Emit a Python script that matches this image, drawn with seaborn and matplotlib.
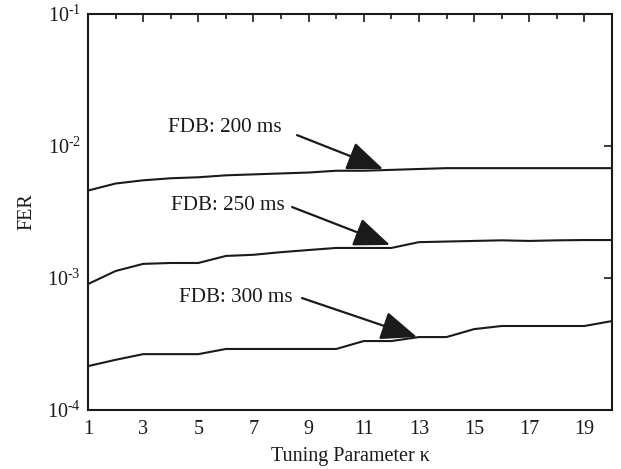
import matplotlib
matplotlib.use("Agg")
import matplotlib.pyplot as plt
import seaborn as sns
import pandas as pd
import numpy as np
from matplotlib.ticker import FixedLocator, NullLocator, FixedFormatter

kappa = list(range(1, 21))
fer_200 = [4.6e-3, 5.2e-3, 5.5e-3, 5.7e-3, 5.8e-3, 6.0e-3, 6.1e-3, 6.2e-3, 6.3e-3, 6.5e-3,
           6.5e-3, 6.6e-3, 6.7e-3, 6.8e-3, 6.8e-3, 6.8e-3, 6.8e-3, 6.8e-3, 6.8e-3, 6.8e-3]
fer_250 = [9.0e-4, 1.13e-3, 1.28e-3, 1.3e-3, 1.3e-3, 1.47e-3, 1.5e-3, 1.57e-3, 1.63e-3, 1.69e-3,
           1.69e-3, 1.69e-3, 1.87e-3, 1.89e-3, 1.91e-3, 1.93e-3, 1.91e-3, 1.93e-3, 1.94e-3, 1.94e-3]
fer_300 = [2.15e-4, 2.4e-4, 2.65e-4, 2.65e-4, 2.65e-4, 2.9e-4, 2.9e-4, 2.9e-4, 2.9e-4, 2.9e-4,
           3.33e-4, 3.33e-4, 3.57e-4, 3.57e-4, 4.1e-4, 4.33e-4, 4.33e-4, 4.33e-4, 4.33e-4, 4.72e-4]
series_labels = ["FDB: 200 ms", "FDB: 250 ms", "FDB: 300 ms"]
x_ticklabels = [str(k) for k in range(1, 21, 2)]
y_ticks = [1e-4, 1e-3, 1e-2, 1e-1]
y_ticklabels = [r"10$^{\text{-}4}$", r"10$^{\text{-}3}$", r"10$^{\text{-}2}$", r"10$^{\text{-}1}$"]

df = pd.DataFrame({
    "kappa": kappa * 3,
    "FER": fer_200 + fer_250 + fer_300,
    "series": sum([[s] * len(kappa) for s in series_labels], []),
})

sns.set_style("white")
plt.rcParams["font.family"] = ["Liberation Serif", "DejaVu Serif"]
plt.rcParams["mathtext.fontset"] = "custom"
plt.rcParams["mathtext.rm"] = "Liberation Serif"
plt.rcParams["mathtext.it"] = "Liberation Serif:italic"

fig = plt.figure(figsize=(6.21, 4.69), dpi=100)
ax = fig.add_axes([0.1417, 0.1258, 0.8438, 0.8442])

for s in series_labels:
    sub = df[df["series"] == s]
    sns.lineplot(data=sub, x="kappa", y="FER", ax=ax, color="#1a1a1a", linewidth=1.5, legend=False)

ax.set_yscale("log")
ax.set_xlim(1, 20)
ax.set_ylim(1e-4, 1e-1)

ax.xaxis.set_major_locator(FixedLocator(list(range(1, 21, 2))))
ax.xaxis.set_major_formatter(FixedFormatter(x_ticklabels))
ax.xaxis.set_minor_locator(FixedLocator(list(range(2, 21, 2))))
ax.yaxis.set_major_locator(FixedLocator(y_ticks))
ax.yaxis.set_major_formatter(FixedFormatter(y_ticklabels))
ax.yaxis.set_minor_locator(NullLocator())

ax.tick_params(which="both", direction="in", top=True, right=True, colors="#1a1a1a",
               labelsize=14.5, width=1.2)
ax.tick_params(which="major", length=6)
ax.tick_params(which="minor", length=3.5)
ax.tick_params(axis="x", pad=7)
ax.tick_params(axis="y", pad=5)
for sp in ax.spines.values():
    sp.set_visible(True)
    sp.set_linewidth(1.5)
    sp.set_color("#1a1a1a")

ax.set_xlabel("Tuning Parameter κ", fontsize=14.5, color="#1a1a1a", labelpad=6)
ax.set_ylabel("FER", fontsize=14.5, color="#1a1a1a", labelpad=8)

text_pos = [(8.03, 1.39e-2), (8.14, 3.57e-3), (8.43, 7.18e-4)]
arrow_start = [(8.58, 1.21e-2), (8.40, 3.45e-3), (8.76, 7.05e-4)]
arrow_tip = [(11.70, 6.70e-3), (11.95, 1.78e-3), (12.93, 3.57e-4)]
for lab, tp, st, tip in zip(series_labels, text_pos, arrow_start, arrow_tip):
    ax.text(tp[0], tp[1], lab, ha="right", va="center", fontsize=15.2, color="#1a1a1a")
    ax.annotate("", xy=tip, xytext=st, xycoords="data", textcoords="data",
                arrowprops=dict(arrowstyle="-|>,head_length=1.25,head_width=0.5",
                                mutation_scale=18, color="#1a1a1a", lw=1.6,
                                shrinkA=0, shrinkB=0))

fig.savefig("out.png", dpi=100)
